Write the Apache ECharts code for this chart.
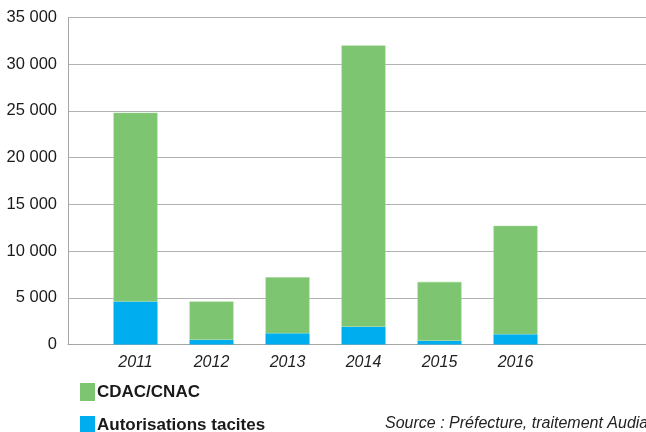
<!DOCTYPE html>
<html>
<head>
<meta charset="utf-8">
<script src="https://cdn.jsdelivr.net/npm/echarts@6/dist/echarts.min.js"></script>
<style>
html,body{margin:0;padding:0;background:#fff;}
#chart{width:646px;height:432px;}
</style>
</head>
<body>
<div id="chart"></div>
<script>
var years = ['2011', '2012', '2013', '2014', '2015', '2016'];
var cdacCnac = [20200, 4100, 6000, 30100, 6300, 11600];
var autorisationsTacites = [4600, 500, 1200, 1900, 400, 1100];
var yTicks = [0, 5000, 10000, 15000, 20000, 25000, 30000, 35000];
var seriesNames = ['CDAC/CNAC', 'Autorisations tacites'];
var sourceText = 'Source : Préfecture, traitement Audiar';

var FONT = '"Liberation Sans", Arial, sans-serif';
var chart = echarts.init(document.getElementById('chart'), null, {renderer: 'canvas'});
var yMin = yTicks[0], yMax = yTicks[yTicks.length - 1], yStep = yTicks[1] - yTicks[0];

function legendFor(name, top) {
  return {
    orient: 'vertical', left: 80, top: top, padding: 0,
    itemWidth: 15, itemHeight: 18, icon: 'rect',
    itemStyle: {borderWidth: 0},
    data: [name],
    textStyle: {fontFamily: FONT, fontSize: 17, fontWeight: 'bold', color: '#1a1a1a', padding: [0, 0, 0, -3]}
  };
}

chart.setOption({
  animation: false,
  backgroundColor: '#ffffff',
  grid: [
    {left: 68, right: 0, top: 17.5, bottom: 87.5},
    {left: 97.5, width: 456, top: 17.5, bottom: 87.5}
  ],
  legend: [legendFor(seriesNames[0], 383), legendFor(seriesNames[1], 416)],
  xAxis: [
    {gridIndex: 0, type: 'value', min: 0, max: 1,
     axisLine: {show: true, lineStyle: {color: '#a6a6a6', width: 1}},
     axisTick: {show: false}, axisLabel: {show: false}, splitLine: {show: false}},
    {gridIndex: 1, type: 'category', data: years,
     axisLine: {show: false}, axisTick: {show: false},
     axisLabel: {fontFamily: FONT, fontSize: 16, fontStyle: 'italic', color: '#222', margin: 10}}
  ],
  yAxis: [
    {gridIndex: 0, type: 'value', min: yMin, max: yMax, interval: yStep,
     axisLine: {show: true, lineStyle: {color: '#a6a6a6', width: 1}},
     axisTick: {show: false},
     splitLine: {show: true, lineStyle: {color: '#b3b3b3', width: 1}},
     axisLabel: {fontFamily: FONT, fontSize: 16.5, color: '#1a1a1a', margin: 11,
       formatter: function (v) { return String(v).replace(/\B(?=(\d{3})+(?!\d))/g, ' '); }}},
    {gridIndex: 1, type: 'value', min: yMin, max: yMax, interval: yStep, show: false,
     splitLine: {show: false}}
  ],
  series: [
    {name: seriesNames[1], type: 'bar', stack: 'total', xAxisIndex: 1, yAxisIndex: 1,
     barWidth: 44, data: autorisationsTacites, itemStyle: {color: '#00aeef'}},
    {name: seriesNames[0], type: 'bar', stack: 'total', xAxisIndex: 1, yAxisIndex: 1,
     barWidth: 44, data: cdacCnac, itemStyle: {color: '#7dc570', borderColor: '#9ad48f', borderWidth: 0.5}}
  ],
  graphic: [
    {type: 'text', left: 385, top: 416,
     style: {text: sourceText, fontFamily: FONT, fontSize: 16, fontStyle: 'italic', fill: '#222'}}
  ]
});
</script>
</body>
</html>
